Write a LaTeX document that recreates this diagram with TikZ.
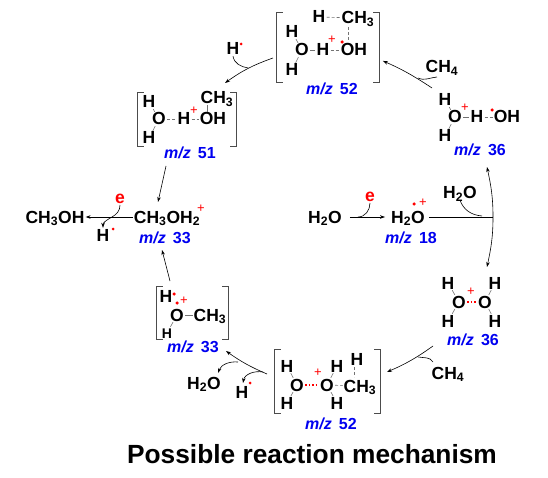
\documentclass[tikz,border=0pt]{standalone}
\usepackage{fontspec}
\setmainfont{Liberation Sans}
\usetikzlibrary{arrows.meta, positioning, calc}
\definecolor{mzblue}{RGB}{0,0,240}
\newcommand{\brackets}[1]{%
  \draw[brk] ([xshift=6pt]#1.north west) -- (#1.north west) -- (#1.south west) -- ([xshift=6pt]#1.south west);
  \draw[brk] ([xshift=-6pt]#1.north east) -- (#1.north east) -- (#1.south east) -- ([xshift=-6pt]#1.south east);}
\begin{document}
\begin{tikzpicture}[x=1pt, y=-1pt,
  atom/.style={font=\fontsize{17.5}{18}\selectfont\bfseries, text height=12pt, text depth=0pt, inner sep=1pt},
  smallatom/.style={atom, font=\fontsize{14}{15}\selectfont\bfseries, text height=10pt},
  mz/.style={font=\fontsize{16}{17}\selectfont\bfseries, text=mzblue, inner sep=1pt},
  elec/.style={font=\fontsize{17.5}{18}\selectfont\bfseries, text=red, inner sep=1pt},
  plus/.style={font=\fontsize{13}{13}\selectfont, text=red, inner sep=0pt},
  rdot/.style={circle, fill=red, inner sep=0pt, minimum size=3.5pt},
  frame/.style={inner sep=0pt},
  brk/.style={draw=black!70, line width=0.7pt},
  bond/.style={draw=black!55, line width=0.6pt},
  hbond/.style={bond, densely dashed},
  redbond/.style={draw=red, line width=1.2pt, dash pattern=on 1.5pt off 2pt},
  rxn/.style={-{Stealth[length=5pt, width=3.5pt]}, line width=0.6pt},
  hook/.style={line width=0.6pt}
]
  \useasboundingbox (0,0) rectangle (548,478);

  %% Start: water ionisation
  \node[atom] (water) at (325,217) {H\textsubscript{2}O};
  \node[atom] (ion) at (408,217) {H\textsubscript{2}O};
  \node[rdot] (iondot) at (414,204) {};
  \node[plus] (ionplus) at (423,203) {+};
  \node[mz] (mz18) at (411,238) {\textit{m/z}\, 18};
  \node[elec] (e1) at (370,197) {e};
  \coordinate (e1end) at (358,217);
  \draw[rxn, shorten <=7pt, shorten >=5pt] (water.east) -- (ion.west);
  \draw[hook] (e1.south) to[out=-90, in=0] (e1end);

  %% Branch point to both cycles
  \coordinate (junc) at (493,217);
  \coordinate (h2oend) at (482,216);
  \node[atom] (water2) at (460,193) {H\textsubscript{2}O};
  \draw[line width=0.6pt, shorten <=3pt] (ion.east) -- (junc);
  \draw[hook] (water2.south) to[out=-70, in=175] (h2oend);

  %% Upper m/z 36
  \node[atom] (ua1) at (445,100) {H};
  \node[atom] (uo1) at (455,117) {O};
  \node[atom] (ua2) at (445,136) {H};
  \node[atom] (ua3) at (477,117) {H};
  \node[atom] (uoh) at (507,117) {OH};
  \node[plus] (uplus) at (465,108) {+};
  \node[rdot] (udot) at (492,110) {};
  \node[mz] (mzu36) at (480,150) {\textit{m/z}\, 36};
  \coordinate (arcup) at (487,167);
  \draw[bond] (ua1) -- (uo1);
  \draw[bond] (ua2) -- (uo1);
  \draw[bond] (uo1) -- (ua3);
  \draw[hbond] (ua3) -- (uoh);
  \draw[rxn] (junc) to[out=90, in=-78] (arcup);

  %% Lower m/z 36
  \node[atom] (la1) at (448,283) {H};
  \node[atom] (la2) at (495,283) {H};
  \node[atom] (lo1) at (459,302) {O};
  \node[atom] (lo2) at (485,302) {O};
  \node[atom] (la3) at (448,321) {H};
  \node[atom] (la4) at (495,321) {H};
  \node[plus] (lplus) at (471,292) {+};
  \node[mz] (mzl36) at (473,340) {\textit{m/z}\, 36};
  \coordinate (arcdown) at (487,267);
  \draw[bond] (la1) -- (lo1);
  \draw[bond] (la3) -- (lo1);
  \draw[bond] (la2) -- (lo2);
  \draw[bond] (la4) -- (lo2);
  \draw[redbond] (lo1) -- (lo2);
  \draw[rxn] (junc) to[out=-90, in=78] (arcdown);

  %% Top complex m/z 52
  \node[frame, minimum width=102pt, minimum height=69pt] (top52) at (328,47.5) {};
  \brackets{top52}
  \node[atom] (ta1) at (319,17) {H};
  \node[atom] (tc) at (358,18) {CH\textsubscript{3}};
  \node[atom] (ta2) at (292,32) {H};
  \node[atom] (to1) at (302,50) {O};
  \node[atom] (ta3) at (323,50) {H};
  \node[atom] (toh) at (354,50) {OH};
  \node[atom] (ta4) at (292,70) {H};
  \node[plus] (tplus) at (332,40) {+};
  \node[rdot] (tdot) at (342,42) {};
  \node[mz] (mzt52) at (332,89) {\textit{m/z}\, 52};
  \coordinate (tbond) at (348,27);
  \coordinate (tbond2) at (348,40);
  \draw[bond] (ta2) -- (to1);
  \draw[bond] (ta4) -- (to1);
  \draw[bond] (to1) -- (ta3);
  \draw[hbond] (ta3) -- (toh);
  \draw[hbond] (ta1) -- (tc);
  \draw[hbond] (tbond) -- (tbond2);
  \node[atom] (ch4a) at (442,67) {CH\textsubscript{4}};
  \coordinate (ustart) at (432,88);
  \coordinate (ch4aend) at (418,78);
  \coordinate (ch4astart) at (437,77);
  \draw[rxn, shorten >=4pt] (ustart) to[bend right=5] (top52.-13);
  \draw[hook] (ch4astart) to[out=-175, in=-25] (ch4aend);

  %% m/z 51
  \node[frame, minimum width=98pt, minimum height=53pt] (c51) at (187,119.5) {};
  \brackets{c51}
  \node[atom] (ma1) at (149,102) {H};
  \node[atom] (mo1) at (159,119) {O};
  \node[atom] (ma2) at (149,138) {H};
  \node[atom] (ma3) at (184,119) {H};
  \node[atom] (moh) at (213,119) {OH};
  \node[atom] (mc) at (217,98) {CH\textsubscript{3}};
  \node[plus] (mplus) at (194,111) {+};
  \node[mz] (mz51) at (190,153) {\textit{m/z}\, 51};
  \coordinate (mbond) at (207,105);
  \coordinate (mbond2) at (207,112);
  \draw[bond] (ma1) -- (mo1);
  \draw[bond] (ma2) -- (mo1);
  \draw[hbond] (mo1) -- (ma3);
  \draw[hbond] (ma3) -- (moh);
  \draw[bond] (mbond) -- (mbond2);
  \node[atom] (ha) at (233,49) {H};
  \node[rdot, minimum size=3pt] (hadot) at (241,44) {};
  \coordinate (tstart) at (273,58);
  \coordinate (ttip) at (225,83);
  \coordinate (haend) at (248,68);
  \draw[rxn] (tstart) to[bend right=8] (ttip);
  \draw[hook] (ha.south) to[out=-80, in=170] (haend);

  %% Product CH3OH2+
  \node[atom] (prod) at (167,217) {CH\textsubscript{3}OH\textsubscript{2}};
  \node[plus] (prodplus) at (201,209) {+};
  \node[mz] (mzp33) at (165,238) {\textit{m/z}\, 33};
  \node[atom] (meoh) at (55,217) {CH\textsubscript{3}OH};
  \node[elec] (e2) at (120,199) {e};
  \node[atom] (hb) at (103,235) {H};
  \node[rdot, minimum size=3pt] (hbdot) at (113,229) {};
  \coordinate (e2mid) at (112,217);
  \coordinate (mstart) at (166,166);
  \coordinate (mtip) at (158,202);
  \draw[rxn] (prod.west) -- (meoh.east);
  \draw[rxn] (e2.south) to[out=-90, in=30] (e2mid) to[out=210, in=90] (hb.north);
  \draw[rxn] (mstart) -- (mtip);

  %% Left complex m/z 33
  \node[frame, minimum width=71pt, minimum height=52pt] (c33) at (192.5,313) {};
  \brackets{c33}
  \node[atom] (sa1) at (166,296) {H};
  \node[rdot] (sdot1) at (174,294) {};
  \node[rdot] (sdot2) at (177,303) {};
  \node[plus] (splus) at (184,301) {+};
  \node[atom] (so) at (177,315) {O};
  \node[atom] (sc) at (210,315) {CH\textsubscript{3}};
  \node[smallatom] (sa2) at (167,333) {H};
  \node[mz] (mzs33) at (193,347) {\textit{m/z}\, 33};
  \coordinate (sstart) at (170,281);
  \coordinate (stip) at (162,250);
  \draw[bond] (so) -- (sc);
  \draw[bond] (so) -- (sa2);
  \draw[rxn] (sstart) -- (stip);

  %% Bottom complex m/z 52
  \node[frame, minimum width=105pt, minimum height=63pt] (bot52) at (327.5,381.5) {};
  \brackets{bot52}
  \node[atom] (ba1) at (287,366) {H};
  \node[atom] (bo1) at (297,385) {O};
  \node[atom] (ba2) at (287,403) {H};
  \node[atom] (bo2) at (327,385) {O};
  \node[atom] (ba3) at (337,366) {H};
  \node[atom] (ba4) at (337,403) {H};
  \node[atom] (ba5) at (357,359) {H};
  \node[atom] (bc) at (360,386) {CH\textsubscript{3}};
  \node[plus] (bplus) at (318,373) {+};
  \node[mz] (mzb52) at (331,424) {\textit{m/z}\, 52};
  \coordinate (bbond) at (354,367);
  \coordinate (bbond2) at (354,377);
  \draw[bond] (ba1) -- (bo1);
  \draw[bond] (ba2) -- (bo1);
  \draw[bond] (ba3) -- (bo2);
  \draw[bond] (ba4) -- (bo2);
  \draw[redbond] (bo1) -- (bo2);
  \draw[hbond] (bo2) -- (bc);
  \draw[hbond] (bbond) -- (bbond2);
  \node[atom] (ch4b) at (448,373) {CH\textsubscript{4}};
  \coordinate (lstart) at (433,346);
  \coordinate (ltip) at (387,372);
  \coordinate (ch4bstart) at (433,362);
  \coordinate (ch4bend) at (418,357);
  \draw[rxn] (lstart) to[bend left=6] (ltip);
  \draw[hook] (ch4bstart) to[out=120, in=-10] (ch4bend);

  %% Loss of water to m/z 33
  \node[atom] (water3) at (204,383) {H\textsubscript{2}O};
  \node[atom] (hc) at (242,392) {H};
  \node[rdot, minimum size=3pt] (hcdot) at (250,383) {};
  \coordinate (bstart) at (267,374);
  \coordinate (btip) at (226,351);
  \coordinate (lossa) at (238,362);
  \coordinate (lossatip) at (218,373);
  \coordinate (lossb) at (263,372);
  \coordinate (lossbtip) at (243,383);
  \draw[rxn] (bstart) to[bend left=6] (btip);
  \draw[rxn] (lossa) to[out=175, in=70] (lossatip);
  \draw[rxn] (lossb) to[out=170, in=80] (lossbtip);

  %% Title
  \node[font=\fontsize{26.3}{27}\selectfont\bfseries, inner sep=0pt] (title) at (312,454) {Possible reaction mechanism};
\end{tikzpicture}
\end{document}
